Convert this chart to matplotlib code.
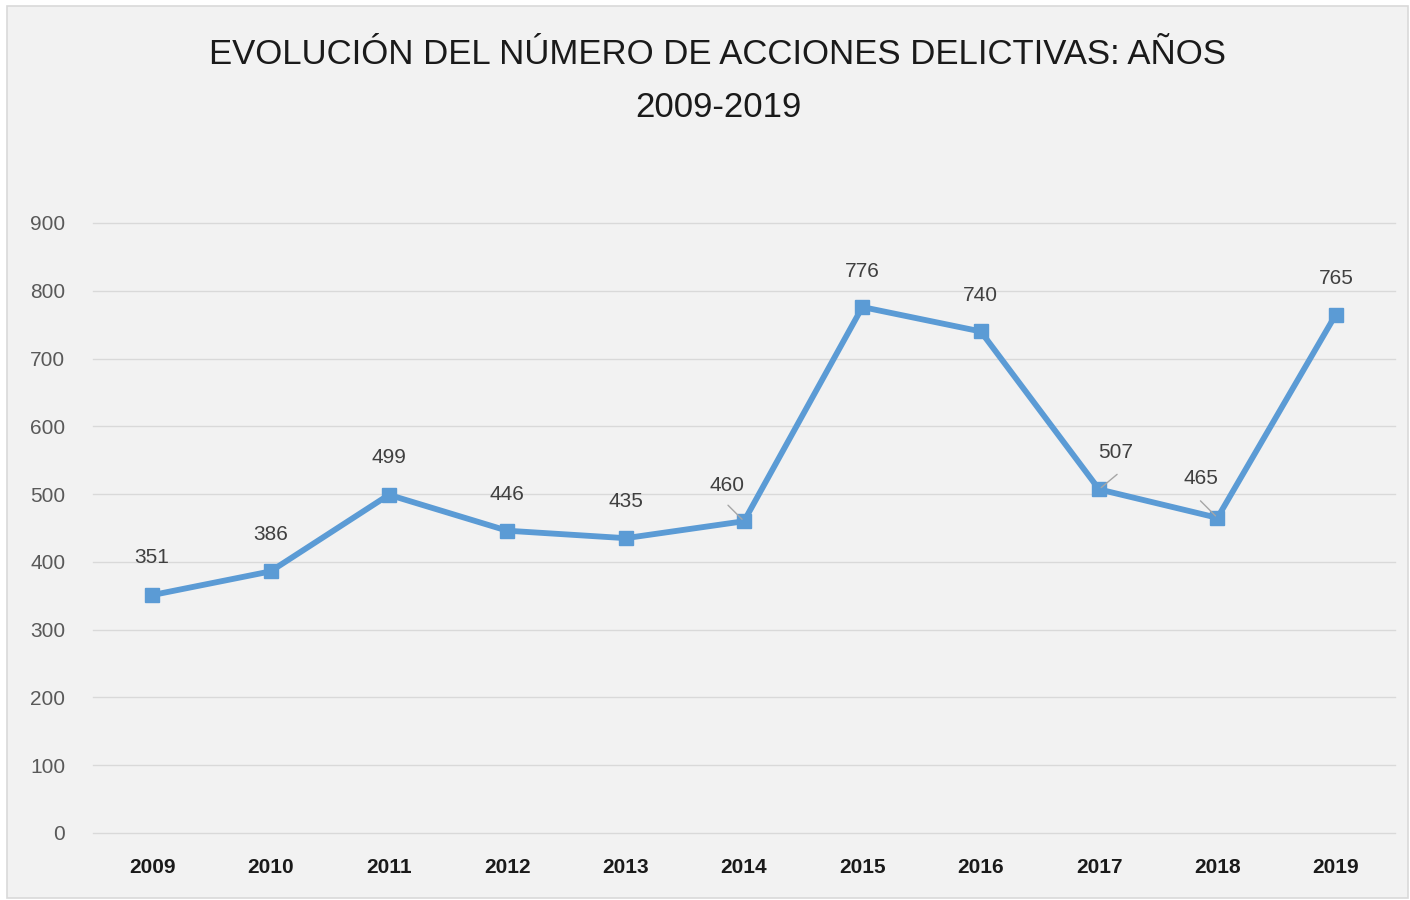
import matplotlib.pyplot as plt
from matplotlib.patches import Rectangle

# Datos
anios = ['2009', '2010', '2011', '2012', '2013', '2014', '2015', '2016', '2017', '2018', '2019']
acciones = [351, 386, 499, 446, 435, 460, 776, 740, 507, 465, 765]

# Desplazamiento de las etiquetas (px) y extremo de la línea guía (px), None si no lleva
desplazamientos = [(0, 38), (0, 37), (0, 37), (0, 36), (0, 37), (-17, 36), (0, 36), (0, 36), (17, 37), (-17, 39), (0, 36)]
guias = [None, None, None, None, None, (-16, 16), None, None, (18, 15), (-17, 17), None]

plt.rcParams['font.family'] = ['Liberation Sans', 'DejaVu Sans']

fig = plt.figure(figsize=(14.1, 9.0), dpi=100)
fig.patch.set_facecolor('white')

# Fondo y borde del área del gráfico
fig.patches.append(Rectangle((7 / 1410, 2 / 900), 1401 / 1410, 892 / 900, transform=fig.transFigure,
                             facecolor='#f2f2f2', edgecolor='#d9d9d9', linewidth=1.2, zorder=-10))

ax = fig.add_axes([93 / 1410, 67 / 900, 1302 / 1410, 610 / 900])
ax.set_facecolor('none')

x = list(range(len(anios)))
ax.plot(x, acciones, color='#5b9bd5', linewidth=4.2, marker='s', markersize=9.5,
        solid_joinstyle='miter', zorder=3)

for i, v in enumerate(acciones):
    dx, dy = desplazamientos[i]
    ax.annotate(str(v), xy=(i, v), xytext=(dx * 0.72, dy * 0.72), textcoords='offset points',
                ha='center', va='center', fontsize=15, color='#404040', zorder=4)
    if guias[i] is not None:
        gx, gy = guias[i]
        ax.annotate('', xy=(i, v), xytext=(gx * 0.72, gy * 0.72), textcoords='offset points',
                    arrowprops=dict(arrowstyle='-', color='#a6a6a6', linewidth=1.0, shrinkA=0, shrinkB=2),
                    zorder=4)

ax.set_xlim(-0.5, len(anios) - 0.5)
ax.set_ylim(0, 900)
ax.set_yticks(range(0, 901, 100))
ax.set_xticks(x)
ax.set_xticklabels(anios, fontweight='bold', fontsize=15, color='#1a1a1a')
ax.tick_params(axis='y', length=0, pad=20, labelsize=15, labelcolor='#595959')
ax.tick_params(axis='x', length=0, pad=18)
ax.grid(axis='y', color='#d9d9d9', linewidth=1.0)
for g in ax.get_ygridlines():
    g.set_clip_on(False)
ax.set_axisbelow(True)
for s in ax.spines.values():
    s.set_visible(False)

fig.text(718 / 1410, 1 - 81 / 900, 'EVOLUCIÓN DEL NÚMERO DE ACCIONES DELICTIVAS: AÑOS\n2009-2019',
         ha='center', va='center', fontsize=25, color='#1a1a1a', linespacing=1.8)

fig.savefig('out.png', dpi=100)
